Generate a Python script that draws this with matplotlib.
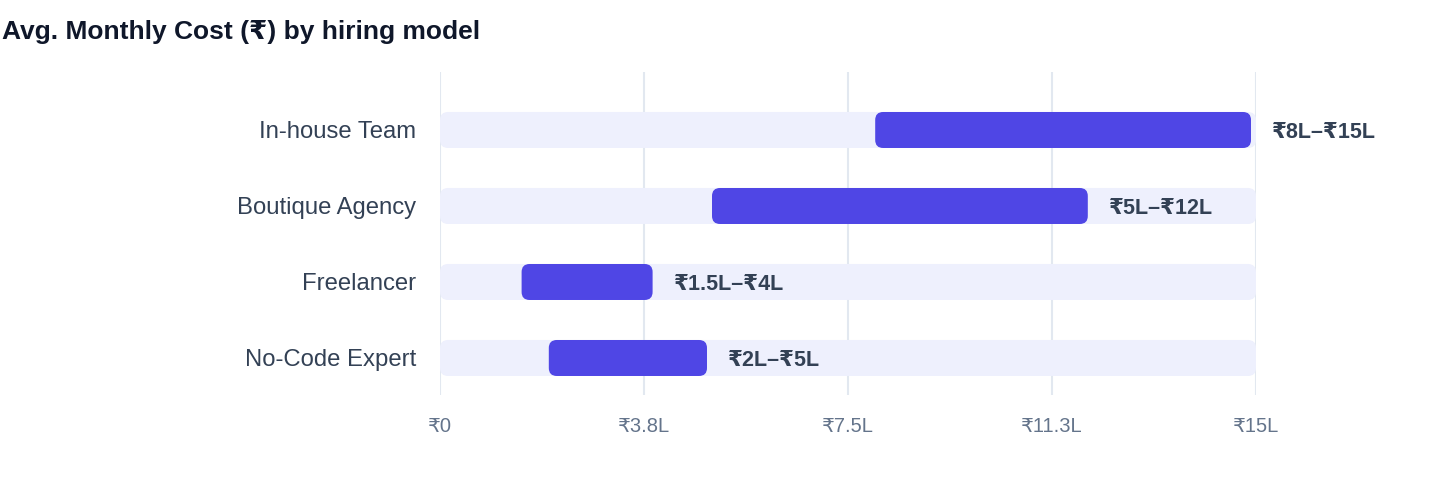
import matplotlib.pyplot as plt
from matplotlib.patches import FancyBboxPatch

models = ["In-house Team", "Boutique Agency", "Freelancer", "No-Code Expert"]
low = [8, 5, 1.5, 2]      # lakh per month
high = [15, 12, 4, 5]
labels = ["₹8L–₹15L", "₹5L–₹12L", "₹1.5L–₹4L", "₹2L–₹5L"]
axis_max = 15
ticks = [0, 3.75, 7.5, 11.25, 15]
tick_labels = ["₹0", "₹3.8L", "₹7.5L", "₹11.3L", "₹15L"]

FONT = ["Liberation Sans", "DejaVu Sans"]
plt.rcParams["font.family"] = FONT

W, H = 1440, 484
fig = plt.figure(figsize=(W / 100, H / 100), dpi=100)
ax = fig.add_axes([440 / W, 1 - 395 / H, 816 / W, 323 / H])

ax.set_xlim(0, axis_max)
ax.set_ylim(3.487, -0.763)

# px per data unit, for rounded corners
px_x = 816 / axis_max
px_y = 323 / (3.487 + 0.763)
aspect = px_x / px_y
r = 8 / px_x
bar_h = 36 / px_y
inset = 5 / px_x

for i in range(len(models)):
    track = FancyBboxPatch((0, i - bar_h / 2), axis_max, bar_h,
                           boxstyle=f"round,pad=0,rounding_size={r}",
                           mutation_aspect=aspect, fc="#eef0fd", ec="none", zorder=2)
    ax.add_patch(track)
    bar = FancyBboxPatch((low[i], i - bar_h / 2), high[i] - low[i] - inset, bar_h,
                         boxstyle=f"round,pad=0,rounding_size={r}",
                         mutation_aspect=aspect, fc="#4f46e5", ec="none", zorder=3)
    ax.add_patch(bar)
    ax.annotate(labels[i], (high[i], i), xytext=(11.5, 0), textcoords="offset points",
                ha="left", va="center_baseline", fontsize=15.5, fontweight="bold",
                color="#334155", zorder=4)

ax.set_yticks(range(len(models)))
ax.set_yticklabels(models, fontsize=17.2, color="#334155", va="center_baseline")
ax.set_xticks(ticks)
ax.set_xticklabels(tick_labels, fontsize=14.5, color="#64748b")
ax.tick_params(axis="both", length=0)
ax.tick_params(axis="y", pad=17)
ax.tick_params(axis="x", pad=16)
for s in ax.spines.values():
    s.set_visible(False)
ax.grid(axis="x", color="#e2e8f0", linewidth=1.5, zorder=0)
ax.set_axisbelow(True)

fig.text(2 / W, 1 - 39 / H, "Avg. Monthly Cost (₹) by hiring model", fontsize=19,
         fontweight="bold", color="#0f172a", ha="left", va="baseline")

fig.savefig("out.png", dpi=100)
